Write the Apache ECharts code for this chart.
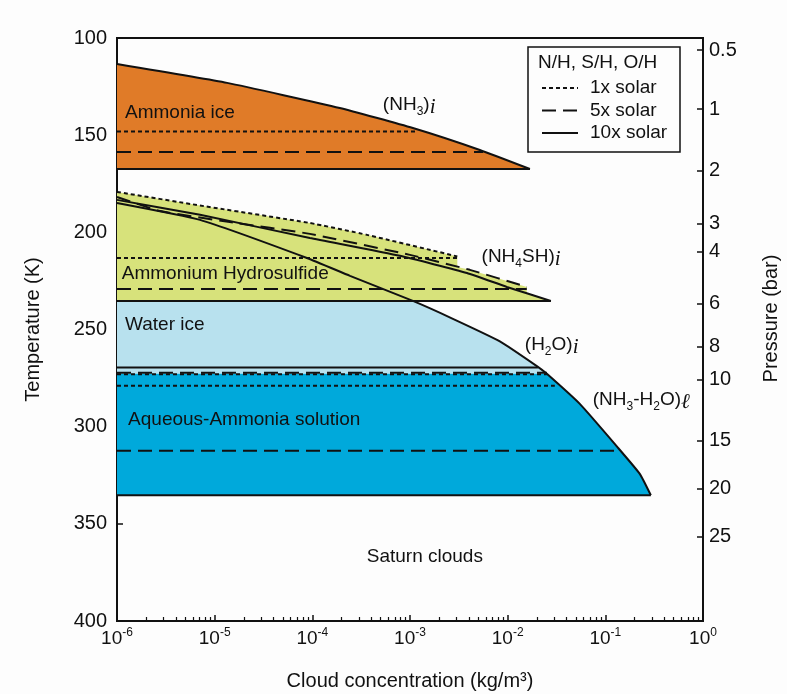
<!DOCTYPE html>
<html>
<head>
<meta charset="utf-8">
<script src="https://cdn.jsdelivr.net/npm/echarts@6/dist/echarts.min.js"></script>
<style>
  html, body { margin: 0; padding: 0; background: #fdfdfd; }
  #main { width: 787px; height: 694px; }
</style>
</head>
<body>
<div id="main"></div>
<script>
// x = cloud concentration (kg/m3), y = temperature (K)
var xTicks = [1e-6, 1e-5, 1e-4, 1e-3, 1e-2, 1e-1, 1];
var minorSteps = [2, 3, 4, 5, 6, 7, 8, 9];
var pressureLabels = ['0.5', '1', '2', '3', '4', '6', '8', '10', '15', '20', '25'];
var pressureTemps = [106.2, 136.6, 168.1, 195.7, 210.1, 236.8, 258.9, 275.9, 307.0, 332.0, 356.7];

// ammonia ice
var nh3Top = [[1e-6, 113.4], [1.34e-5, 123.1], [1.91e-4, 136.0], [1.07e-3, 146.3], [5.19e-3, 157.6], [0.0169, 167.4]];
var nh3Base = [[1e-6, 167.4], [0.0169, 167.4]];
var nh3Dot = [[1e-6, 148.1], [1.15e-3, 148.1]];
var nh3Dash = [[1e-6, 158.6], [5.6e-3, 158.6]];

// ammonium hydrosulfide
var nh4shDotTop = [[1e-6, 179.2], [7.08e-6, 186.2], [9.44e-5, 195.2], [3.62e-4, 201.3], [3.05e-3, 212.4]];
var nh4shDotBase = [[1e-6, 213.2], [3.05e-3, 213.2]];
var nh4shDashTop = [[1e-6, 181.8], [2.75e-6, 189.0], [1.43e-5, 194.7], [9.44e-5, 200.8], [9.98e-4, 211.6], [4.1e-3, 219.3], [0.0157, 228.1]];
var nh4shDashBase = [[1e-6, 229.1], [0.0157, 229.1]];
var nh4shSolidTop = [[1e-6, 183.3], [7.08e-6, 191.0], [9.44e-5, 202.9], [7.88e-4, 212.1], [3.83e-3, 220.9], [9.8e-3, 228.1], [0.0277, 235.3]];
var nh4shBase = [[1e-6, 235.3], [0.0277, 235.3]];

// water / aqueous ammonia saturation curve
var h2oCurve = [[1e-6, 184.9], [7.08e-6, 193.6], [8.8e-5, 213.2], [2.43e-4, 222.4], [1.07e-3, 235.3], [2.75e-3, 244.5],
  [8.32e-3, 256.1], [0.0204, 269.2], [0.0252, 272.8], [0.0548, 288.3], [0.1324, 310.4], [0.2253, 324.3], [0.2923, 335.3]];
var iceBase = [[1e-6, 269.5], [0.0204, 269.5]];
var solDash1 = [[1e-6, 272.3], [0.0252, 272.3]];
var solDot1 = [[1e-6, 273.0], [0.0252, 273.0]];
var solDot2 = [[1e-6, 279.0], [0.0304, 279.0]];
var solDash2 = [[1e-6, 312.4], [0.13, 312.4]];
var solBase = [[1e-6, 335.3], [0.2923, 335.3]];

var annotations = [
  { text: '{n|Ammonia ice}', at: [1.21e-6, 138.6] },
  { text: '{n|(NH}{sub|3}{n|)}{it|i}', at: [5.28e-4, 134.5] },
  { text: '{n|Ammonium Hydrosulfide}', at: [1.12e-6, 221.4] },
  { text: '{n|(NH}{sub|4}{n|SH)}{it|i}', at: [5.41e-3, 212.5] },
  { text: '{n|Water ice}', at: [1.21e-6, 247.6] },
  { text: '{n|(H}{sub|2}{n|O)}{it|i}', at: [0.015, 257.9] },
  { text: '{n|(NH}{sub|3}{n|-H}{sub|2}{n|O)}{it|ℓ}', at: [0.0745, 286.2] },
  { text: '{n|Aqueous-Ammonia solution}', at: [1.30e-6, 296.5] },
  { text: '{n|Saturn clouds}', at: [1.42e-3, 367], align: 'center' }
];

var legendRows = [
  { label: '1x solar', dash: 'dot' },
  { label: '5x solar', dash: 'dash' },
  { label: '10x solar', dash: 'solid' }
];

var FONT = '"Liberation Sans", Arial, sans-serif';
var INK = '#111';
var DASHES = { dot: [4, 3], dash: [14, 7], solid: 'solid' };

// polygons for the coloured cloud layers, built from the curves above
function after(curve, x) {
  return curve.filter(function (p) { return p[0] > x; });
}
function upto(curve, x0, x1) {
  return curve.filter(function (p) { return p[0] >= x0 && p[0] <= x1; });
}
var nh3Fill = nh3Top.concat([[1e-6, 167.4]]);
var nh4shFill = nh4shDotTop
  .concat([[3.05e-3, 217.8]])
  .concat(after(nh4shDashTop, 3.05e-3))
  .concat([[0.0157, 231.4]])
  .concat(after(nh4shSolidTop, 0.0157))
  .concat([[1e-6, 235.3]]);
var iceFill = [[1e-6, 235.3]].concat(upto(h2oCurve, 1.07e-3, 0.0252)).concat([[1e-6, 272.8]]);
var liquidFill = [[1e-6, 272.8]].concat(upto(h2oCurve, 0.0252, 1)).concat([[1e-6, 335.3]]);

var minorValues = [];
for (var i = 0; i < xTicks.length - 1; i++) {
  for (var j = 0; j < minorSteps.length; j++) {
    minorValues.push(xTicks[i] * minorSteps[j]);
  }
}

function fillSeries(points, color) {
  return {
    type: 'custom',
    silent: true,
    z: 1,
    data: [points[0]],
    renderItem: function (params, api) {
      var pts = points.map(function (p) { return api.coord(p); });
      return { type: 'polygon', shape: { points: pts }, style: { fill: color } };
    }
  };
}

function lineSeries(data, dash, smooth) {
  return {
    type: 'line',
    data: data,
    symbol: 'none',
    silent: true,
    smooth: smooth ? 0.15 : false,
    z: 3,
    lineStyle: { color: INK, width: 2, type: DASHES[dash] }
  };
}

var chart = echarts.init(document.getElementById('main'));

var richText = {
  n: { fontSize: 19, fontFamily: FONT, color: INK, lineHeight: 26 },
  sub: { fontSize: 12, fontFamily: FONT, color: INK, lineHeight: 14, verticalAlign: 'bottom' },
  it: { fontSize: 21, fontFamily: '"Liberation Serif", serif', fontStyle: 'italic', color: INK, lineHeight: 16, verticalAlign: 'bottom' }
};

var legendGraphic = [{
  type: 'rect',
  shape: { x: 528, y: 47, width: 152, height: 105 },
  style: { fill: '#fdfdfd', stroke: INK, lineWidth: 1.5 },
  z: 10
}, {
  type: 'text',
  x: 538, y: 63,
  style: { text: 'N/H, S/H, O/H', fontSize: 19, fontFamily: FONT, fill: INK, verticalAlign: 'middle' },
  z: 11
}];
legendRows.forEach(function (row, k) {
  var y = 88 + k * 22.5;
  legendGraphic.push({
    type: 'line',
    shape: { x1: 542, y1: y, x2: 578, y2: y },
    style: { stroke: INK, lineWidth: 2, lineDash: row.dash === 'solid' ? null : DASHES[row.dash] },
    z: 11
  });
  legendGraphic.push({
    type: 'text',
    x: 590, y: y,
    style: { text: row.label, fontSize: 19, fontFamily: FONT, fill: INK, verticalAlign: 'middle' },
    z: 11
  });
});

var option = {
  backgroundColor: '#fdfdfd',
  animation: false,
  grid: {
    left: 117, right: 84, top: 38, bottom: 73,
    show: true, borderColor: INK, borderWidth: 2,
    containLabel: false, outerBoundsMode: 'none'
  },
  xAxis: [{
    type: 'log',
    logBase: 10,
    min: 1e-6,
    max: 1,
    position: 'bottom',
    name: 'Cloud concentration (kg/m³)',
    nameLocation: 'middle',
    nameGap: 50,
    nameMoveOverlap: false,
    nameTextStyle: { fontSize: 20, fontFamily: FONT, color: INK },
    axisLine: { lineStyle: { color: INK, width: 2 } },
    axisTick: { inside: true, length: 6, customValues: xTicks, lineStyle: { color: INK, width: 1.5 } },
    axisLabel: {
      customValues: xTicks,
      margin: 6,
      formatter: function (v) {
        var e = Math.round(Math.log(v) / Math.LN10);
        return '{b|10}{s|' + e + '}';
      },
      rich: {
        b: { fontSize: 19, fontFamily: FONT, color: INK, lineHeight: 24 },
        s: { fontSize: 12, fontFamily: FONT, color: INK, lineHeight: 14, verticalAlign: 'top' }
      }
    },
    splitLine: { show: false }
  }, {
    type: 'log',
    logBase: 10,
    min: 1e-6,
    max: 1,
    position: 'bottom',
    axisLine: { show: false },
    axisTick: { inside: true, length: 4, customValues: minorValues, lineStyle: { color: INK, width: 1.2 } },
    axisLabel: { show: false },
    splitLine: { show: false }
  }],
  yAxis: [{
    type: 'value',
    inverse: true,
    min: 100,
    max: 400,
    interval: 50,
    position: 'left',
    name: 'Temperature (K)',
    nameLocation: 'middle',
    nameGap: 74,
    nameMoveOverlap: false,
    nameTextStyle: { fontSize: 20, fontFamily: FONT, color: INK },
    axisLine: { show: true, lineStyle: { color: INK, width: 2 } },
    axisTick: { inside: true, length: 6, lineStyle: { color: INK, width: 1.5 } },
    axisLabel: { fontSize: 20, fontFamily: FONT, color: INK, margin: 10 },
    splitLine: { show: false }
  }, {
    type: 'value',
    inverse: true,
    min: 100,
    max: 400,
    position: 'right',
    name: 'Pressure (bar)',
    nameLocation: 'middle',
    nameGap: 58,
    nameMoveOverlap: false,
    nameTextStyle: { fontSize: 20, fontFamily: FONT, color: INK, padding: [0, 0, 0, 22] },
    axisLine: { show: true, lineStyle: { color: INK, width: 2 } },
    axisTick: { inside: true, length: 6, customValues: pressureTemps, lineStyle: { color: INK, width: 1.5 } },
    axisLabel: {
      customValues: pressureTemps,
      fontSize: 20, fontFamily: FONT, color: INK, margin: 6,
      formatter: function (v) {
        var best = 0;
        for (var k = 0; k < pressureTemps.length; k++) {
          if (Math.abs(pressureTemps[k] - v) < Math.abs(pressureTemps[best] - v)) best = k;
        }
        return pressureLabels[best];
      }
    },
    splitLine: { show: false }
  }],
  series: [
    fillSeries(nh3Fill, '#E07B28'),
    fillSeries(nh4shFill, '#D7E27B'),
    fillSeries(iceFill, '#B8E1EE'),
    fillSeries(liquidFill, '#00A9DB'),

    lineSeries(nh3Top, 'solid', true),
    lineSeries(nh3Base, 'solid'),
    lineSeries(nh3Dot, 'dot'),
    lineSeries(nh3Dash, 'dash'),

    lineSeries(nh4shDotTop, 'dot', true),
    lineSeries(nh4shDotBase, 'dot'),
    lineSeries(nh4shDashTop, 'dash', true),
    lineSeries(nh4shDashBase, 'dash'),
    lineSeries(nh4shSolidTop, 'solid', true),
    lineSeries(nh4shBase, 'solid'),

    lineSeries(h2oCurve, 'solid', true),
    lineSeries(iceBase, 'solid'),
    lineSeries(solDash1, 'dash'),
    lineSeries(solDot1, 'dot'),
    lineSeries(solDot2, 'dot'),
    lineSeries(solDash2, 'dash'),
    lineSeries(solBase, 'solid'),

    {
      type: 'scatter',
      silent: true,
      z: 4,
      symbolSize: 0.1,
      itemStyle: { color: 'rgba(0,0,0,0)', opacity: 1 },
      data: annotations.map(function (a) {
        return {
          value: a.at,
          label: { formatter: a.text, align: a.align || 'left' }
        };
      }),
      label: {
        show: true,
        position: [0, 0],
        verticalAlign: 'middle',
        opacity: 1,
        rich: richText
      }
    }
  ],
  graphic: legendGraphic
};

chart.setOption(option);
</script>
</body>
</html>
